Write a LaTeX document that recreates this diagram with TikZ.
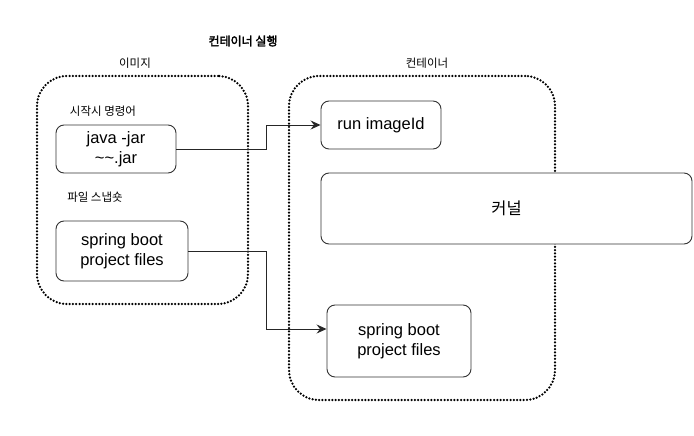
\documentclass[tikz,border=0pt]{standalone}
\usepackage{fontspec}
\setmainfont{Liberation Sans}
\newfontfamily\kr{Noto Sans CJK KR}[AutoFakeBold=2.5]
\usetikzlibrary{arrows.meta,calc}
\begin{document}
\begin{tikzpicture}[x=1pt,y=-1pt,
  box/.style={draw=black!80,line width=0.9pt,rounded corners=8pt,fill=white,align=center,
    font=\fontsize{16.5}{19.5}\selectfont,inner sep=0pt},
  dotbox/.style={draw=black,line width=2.5pt,dash pattern=on 0pt off 3.3pt,line cap=round,
    rounded corners=30pt,inner sep=0pt},
  lbl/.style={font=\kr\fontsize{11.5}{13}\selectfont,inner sep=0pt},
  arr/.style={draw=black!85,line width=1pt,-{Stealth[length=10pt,width=9pt,inset=3.5pt]}}]
\useasboundingbox (0,0) rectangle (694,436);
% containers
\node[dotbox,minimum width=211pt,minimum height=228pt] (img) at (142.5,190) {};
\node[dotbox,minimum width=266pt,minimum height=324pt] (ctr) at (422,238) {};
% labels
\node[lbl,font=\kr\bfseries\fontsize{12}{13}\selectfont] (title) at (243,41) {컨테이너 실행};
\node[lbl] (limg) at (135,63) {이미지};
\node[lbl] (lctr) at (427,63) {컨테이너};
\node[lbl] (lcmd) at (103,111) {시작시 명령어};
\node[lbl] (lsnap) at (95,197) {파일 스냅숏};
% boxes
\node[box,minimum width=120pt,minimum height=48pt] (jv) at (116,149) {java -jar\\\textasciitilde\textasciitilde.jar};
\node[box,minimum width=132pt,minimum height=60pt] (sl) at (122,251) {spring boot\\project files};
\node[box,minimum width=120pt,minimum height=48pt] (run) at (381,125) {run imageId};
\node[box,minimum width=371pt,minimum height=71pt] (kn) at (506.5,208.5) {\kr 커널};
\node[box,minimum width=144pt,minimum height=72pt] (sr) at (399,341) {spring boot\\project files};
% arrows
\draw[arr] (jv.east) -- ++(90,0) |- (run.west);
\draw[arr] (sl.east) -- ++(78,0) |- ([yshift=12pt]sr.west);
\end{tikzpicture}
\end{document}
